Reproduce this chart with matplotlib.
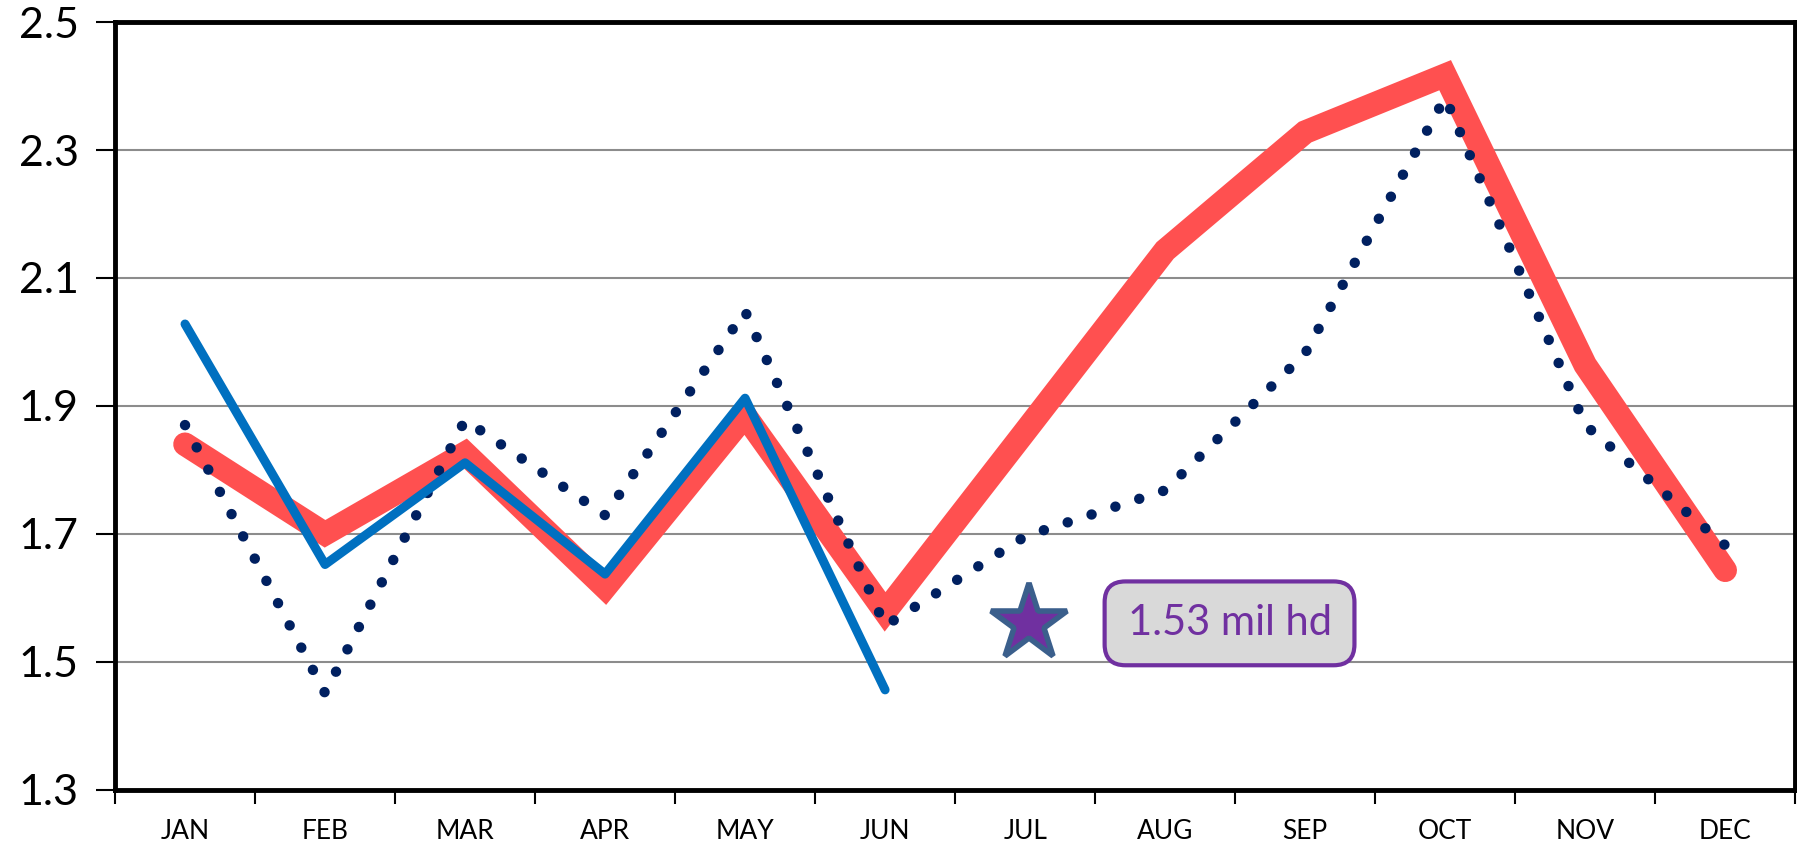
import numpy as np
import matplotlib.pyplot as plt

plt.rcParams['font.family'] = ['Lato', 'DejaVu Sans']

months = ["JAN", "FEB", "MAR", "APR", "MAY", "JUN", "JUL", "AUG", "SEP", "OCT", "NOV", "DEC"]
red_vals = [1.84, 1.70, 1.826, 1.616, 1.885, 1.578, 1.86, 2.143, 2.328, 2.417, 1.964, 1.643]
dot_vals = [1.87, 1.451, 1.878, 1.729, 2.048, 1.556, 1.696, 1.768, 1.982, 2.382, 1.87, 1.682]
blue_vals = [2.028, 1.652, 1.811, 1.637, 1.912, 1.456]
star_month = 6
star_val = 1.56
label_text = "1.53 mil hd"
yticks = [1.3, 1.5, 1.7, 1.9, 2.1, 2.3, 2.5]

fig = plt.figure(figsize=(17.97, 8.5), dpi=100)
ax = fig.add_axes([0.064, 0.071, 0.935, 0.903])

x = np.arange(len(months))

for y in yticks[1:-1]:
    ax.axhline(y, color="#8c8c8c", linewidth=1.5, zorder=1)

ax.plot(x, red_vals, color="#ff5050", linewidth=17, solid_capstyle="round",
        solid_joinstyle="miter", zorder=2)
ax.plot(x, dot_vals, color="#002060", linewidth=7.5, linestyle=(0, (0.01, 2.4)),
        dash_capstyle="round", zorder=3)
ax.plot(x[:len(blue_vals)], blue_vals, color="#0070c0", linewidth=6.5,
        solid_capstyle="round", zorder=4)

ax.plot([star_month + 0.03], [star_val], marker="*", markersize=58, markerfacecolor="#7030a0",
        markeredgecolor="#3b5f8c", markeredgewidth=4, zorder=5)
ax.text(star_month + 1.46, star_val, label_text, fontsize=30, color="#7030a0",
        ha="center", va="center", zorder=6,
        bbox=dict(boxstyle="round,pad=0.55,rounding_size=0.5", facecolor="#d9d9d9",
                  edgecolor="#7030a0", linewidth=3))

ax.set_xlim(-0.5, 11.5)
ax.set_ylim(1.3, 2.5)
ax.set_yticks(yticks)
ax.set_yticklabels([f"{v:.1f}" for v in yticks], fontsize=31)
ax.set_xticks(x)
ax.set_xticklabels(months, fontsize=19)
ax.set_xticks(np.arange(-0.5, 12, 1), minor=True)
ax.tick_params(axis="x", which="major", length=0, pad=21)
ax.tick_params(axis="x", which="minor", length=10, width=1.5, direction="out")
ax.tick_params(axis="y", length=14, width=1.5, direction="out", pad=12)

for s in ax.spines.values():
    s.set_linewidth(3.5)
    s.set_color("black")

fig.savefig("out.png", dpi=100)
